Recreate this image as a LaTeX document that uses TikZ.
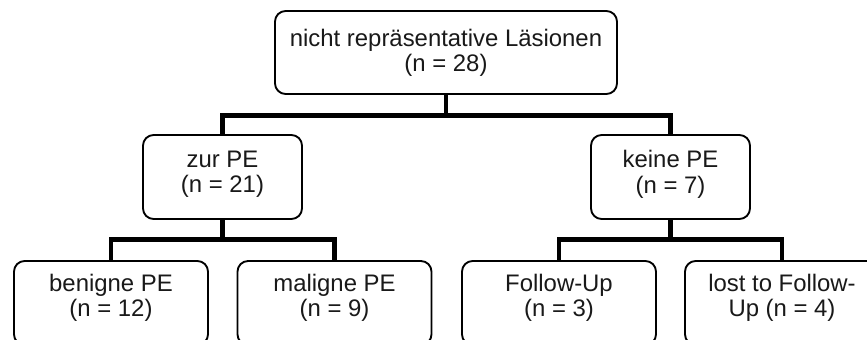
\documentclass[tikz,border=0pt]{standalone}
\usepackage{fontspec}
\setmainfont{Liberation Sans}
\usetikzlibrary{positioning}

\begin{document}
\begin{tikzpicture}[box/.style={draw=black,line width=1.6pt,rounded corners=0.32cm,fill=white,align=center,inner sep=2pt,text=black!90,font=\fontsize{20.4}{21.5}\selectfont},bar/.style={line width=4.2pt,black}]
\useasboundingbox (0,0) rectangle (26.01,-10.2);
\node[box,minimum width=10.26cm,minimum height=2.49cm,text depth=0.15cm] (top) at (13.38,-1.575) {nicht repräsentative Läsionen\\(n = 28)};
\node[box,minimum width=4.77cm,minimum height=2.52cm,text depth=0.31cm] (zur) at (6.675,-5.31) {zur PE\\(n = 21)};
\node[box,minimum width=4.77cm,minimum height=2.52cm,text depth=0.31cm] (keine) at (20.115,-5.31) {keine PE\\(n = 7)};
\node[box,minimum width=5.82cm,minimum height=2.52cm,text depth=0.48cm] (ben) at (3.33,-9.09) {benigne PE\\(n = 12)};
\node[box,minimum width=5.82cm,minimum height=2.52cm,text depth=0.48cm] (mal) at (10.035,-9.09) {maligne PE\\(n = 9)};
\node[box,minimum width=5.82cm,minimum height=2.52cm,text depth=0.48cm] (fup) at (16.77,-9.09) {Follow-Up\\(n = 3)};
\node[box,minimum width=5.82cm,minimum height=2.52cm,text depth=0.48cm] (lost) at (23.46,-9.09) {lost to Follow-\\Up (n = 4)};
\draw[bar] (top.south) -- ++(0,-0.63) coordinate (j0);
\draw[bar] (zur.north) |- (j0) -| (keine.north);
\draw[bar] (zur.south) -- ++(0,-0.6) coordinate (j1);
\draw[bar] (ben.north) |- (j1) -| (mal.north);
\draw[bar] (keine.south) -- ++(0,-0.6) coordinate (j2);
\draw[bar] (fup.north) |- (j2) -| (lost.north);
\end{tikzpicture}
\end{document}
